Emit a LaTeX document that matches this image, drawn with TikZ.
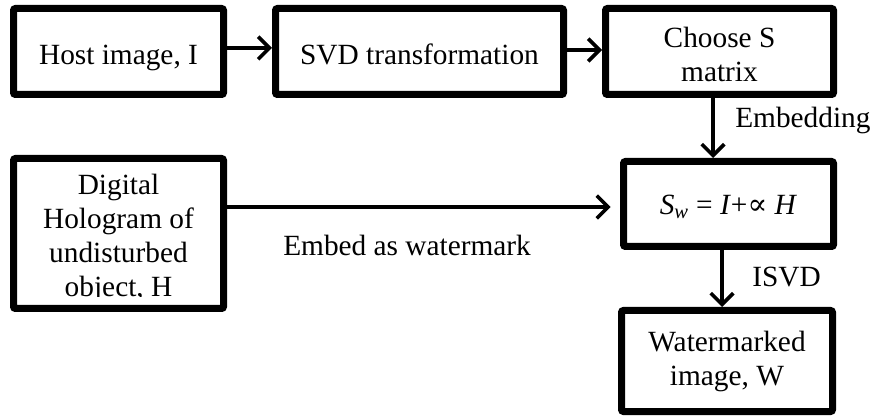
\documentclass[tikz,border=0pt]{standalone}
\usepackage{fontspec}
\setmainfont{Liberation Serif}
\newfontfamily\symfnt{DejaVu Serif}
\usetikzlibrary{arrows.meta,calc}
\begin{document}
\begin{tikzpicture}[x=0.75pt,y=-0.75pt,
  box/.style={draw,line width=5.25pt,rounded corners=1.5pt,align=center,inner sep=0pt,
    font=\fontsize{22}{25.5}\selectfont},
  oneline/.style={text height=20pt,text depth=0pt},
  arr/.style={line width=2.7pt,-{Straight Barb[length=8.5pt,width=17pt]}},
  lbl/.style={font=\fontsize{22}{25.5}\selectfont,inner sep=0pt}]
\useasboundingbox (0,0) rectangle (874,416);
\node[box,oneline,minimum width=157.5pt,minimum height=64.5pt] (b1) at (118.5,51.5) {Host image, I};
\node[box,oneline,minimum width=216pt,minimum height=64.5pt] (b2) at (419.5,51.5) {SVD transformation};
\node[box,minimum width=171pt,minimum height=64.5pt] (b3) at (719.5,51.5) {\rule{0pt}{19pt}Choose S\\matrix};
\node[box,text height=16pt,text depth=0pt,minimum width=157.5pt,minimum height=63.75pt] (b4) at (728.5,204)
  {\textit{S}\textsubscript{\textit{w}} = \textit{I}+{\symfnt ∝} \textit{H}};
\node[box,minimum width=158.25pt,minimum height=75.75pt] (b5) at (727,361) {Watermarked\\image, W};
\node[box,minimum width=157.5pt,minimum height=112.5pt] (b6) at (118.5,233.5) {};
\begin{scope}
  \clip (10,155) rectangle (227,297);
  \node[lbl,align=center] (holotext) at (118.5,238) {Digital\\Hologram of\\undisturbed\\object, H};
\end{scope}
\coordinate (ay) at (0,48);
\coordinate (by) at (0,50);
\coordinate (ex) at (713,0);
\coordinate (ix) at (722,0);
\coordinate (hy) at (0,207);
\draw[arr] (b1.east |- ay) -- (b2.west |- ay);
\draw[arr] (b2.east |- by) -- (b3.west |- by);
\draw[arr] (b3.south -| ex) -- (b4.north -| ex);
\draw[arr] (b4.south -| ix) -- (b5.north -| ix);
\draw[arr] (b6.east |- hy) -- ([xshift=-7pt]b4.west |- hy);
\node[lbl,anchor=west] (lemb) at (735,120) {Embedding};
\node[lbl,anchor=west] (lisvd) at (752,277) {ISVD};
\node[lbl,anchor=west] (lwm) at (283,245) {Embed as watermark};
\end{tikzpicture}
\end{document}
